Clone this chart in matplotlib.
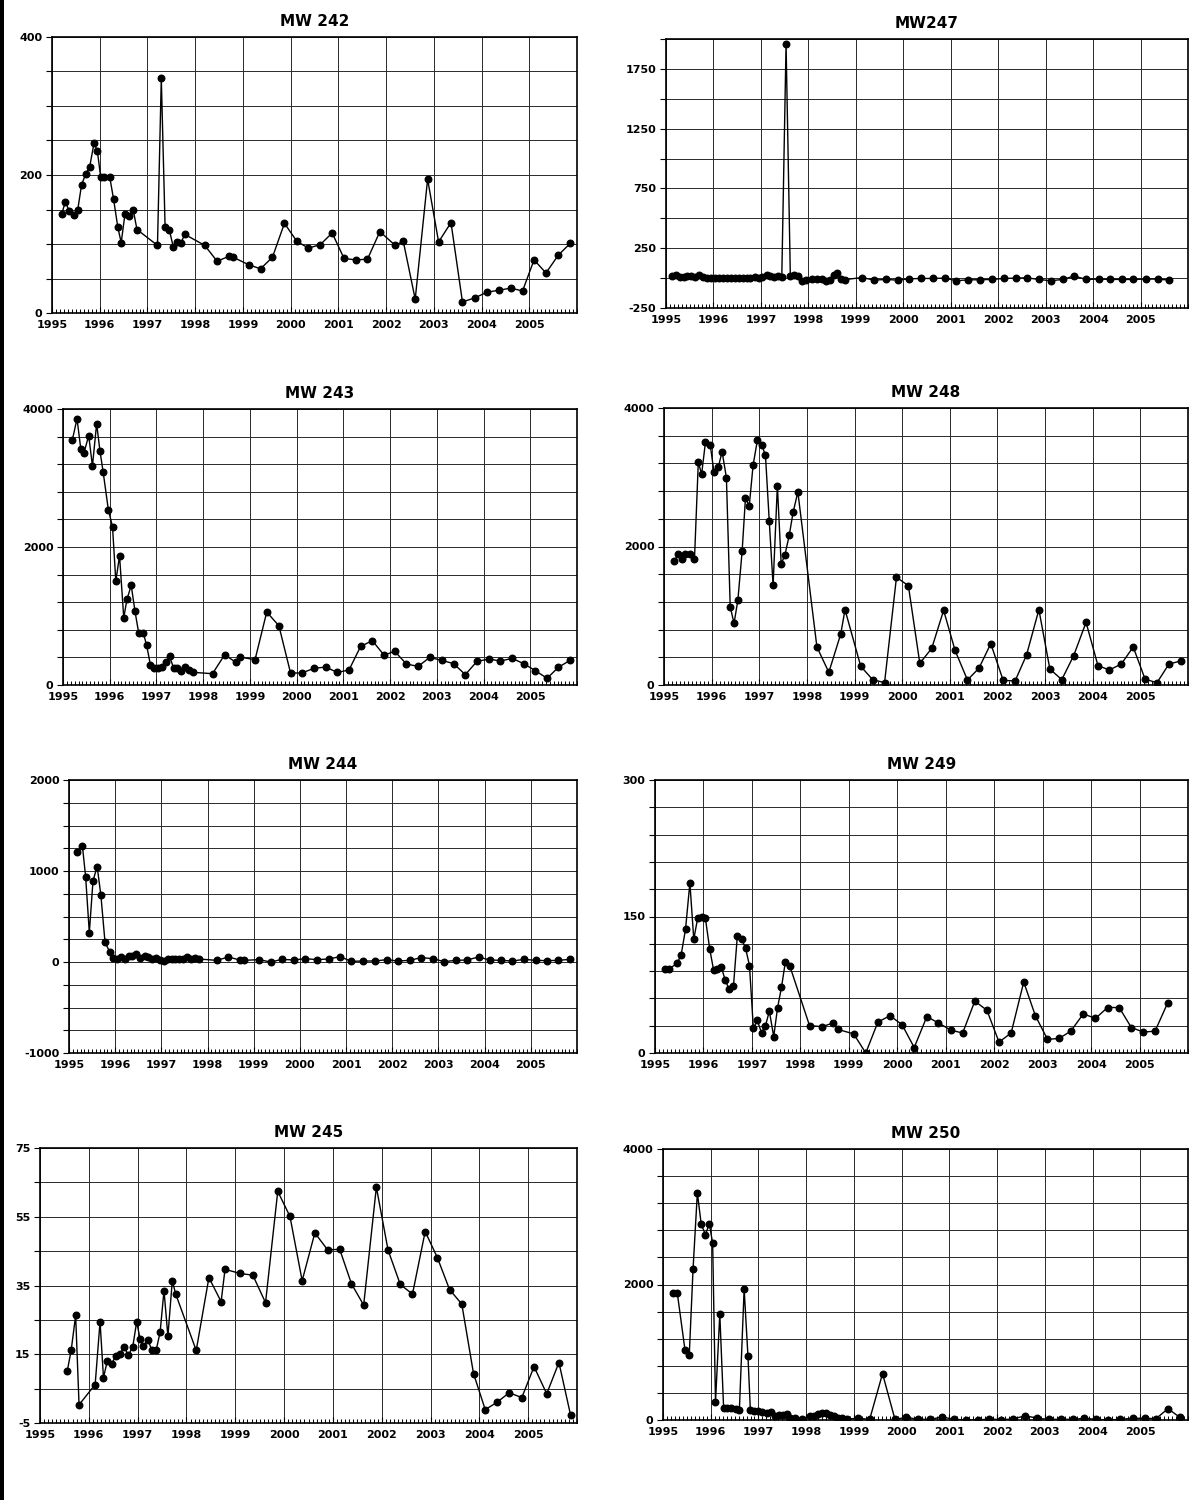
import numpy as np
import matplotlib
matplotlib.use("Agg")
import matplotlib.pyplot as plt
from matplotlib.ticker import MultipleLocator
from matplotlib.patches import Rectangle

# ---- data (decimal year, value) ----
mw242_t = [1995.20, 1995.28, 1995.36, 1995.46, 1995.54, 1995.62, 1995.71, 1995.79, 1995.88, 1995.95,
           1996.02, 1996.10, 1996.21, 1996.29, 1996.38, 1996.45, 1996.53, 1996.62, 1996.70, 1996.78,
           1997.21, 1997.29, 1997.37, 1997.46, 1997.54, 1997.62, 1997.70, 1997.78,
           1998.20, 1998.46, 1998.70, 1998.79, 1999.12, 1999.37, 1999.62, 1999.87,
           2000.13, 2000.37, 2000.62, 2000.87, 2001.12, 2001.37, 2001.61, 2001.87,
           2002.19, 2002.36, 2002.61, 2002.87, 2003.10, 2003.36, 2003.60, 2003.86,
           2004.11, 2004.36, 2004.61, 2004.86, 2005.10, 2005.35, 2005.61, 2005.86]
mw242_v = [143, 161, 148, 142, 150, 186, 202, 212, 246, 235,
           197, 197, 197, 165, 124, 102, 144, 141, 150, 121,
           98, 340, 124, 120, 96, 103, 101, 114,
           98, 75, 82, 81, 70, 64, 81, 130,
           104, 94, 99, 116, 79, 77, 78, 118,
           98, 104, 20, 194, 103, 131, 16, 22,
           30, 33, 36, 32, 77, 58, 84, 101]

mw247_t = [1995.13, 1995.21, 1995.29, 1995.37, 1995.45, 1995.53, 1995.62, 1995.70, 1995.78, 1995.87,
           1995.95, 1996.03, 1996.12, 1996.20, 1996.28, 1996.37, 1996.45, 1996.53, 1996.62, 1996.70,
           1996.78, 1996.87, 1996.95, 1997.03, 1997.12, 1997.20, 1997.28, 1997.36, 1997.44, 1997.53,
           1997.62, 1997.70, 1997.78, 1997.87, 1997.95, 1998.07, 1998.19, 1998.29, 1998.37, 1998.45,
           1998.53, 1998.61, 1998.69, 1998.78,
           1999.14, 1999.38, 1999.63, 1999.88, 2000.12, 2000.37, 2000.62, 2000.87,
           2001.12, 2001.37, 2001.61, 2001.86, 2002.13, 2002.37, 2002.60, 2002.85,
           2003.11, 2003.36, 2003.60, 2003.86, 2004.12, 2004.36, 2004.60, 2004.84,
           2005.12, 2005.36, 2005.61]
mw247_v = [20, 25, 10, 12, 18, 20, 12, 22, 10, 5,
           3, 2, 3, 4, 5, 3, 4, 5, 4, 3,
           5, 8, 5, 10, 22, 15, 10, 14, 8, 1960,
           20, 25, 18, -20, -12, -10, -6, -8, -22, -12,
           22, 40, -5, -12,
           5, -17, -11, -17, -6, -3, -3, 0,
           -22, -14, -14, -11, -3, 0, 3, -11,
           -22, -11, 17, -11, -8, -11, -11, -11,
           -8, -8, -17]

mw243_t = [1995.20, 1995.30, 1995.38, 1995.45, 1995.55, 1995.63, 1995.72, 1995.79, 1995.86, 1995.97,
           1996.06, 1996.13, 1996.21, 1996.30, 1996.37, 1996.46, 1996.54, 1996.62, 1996.72, 1996.79,
           1996.87, 1996.95, 1997.04, 1997.12, 1997.20, 1997.28, 1997.37, 1997.45, 1997.53, 1997.62,
           1997.70, 1997.79, 1998.20, 1998.46, 1998.70, 1998.79, 1999.11, 1999.36, 1999.62, 1999.87,
           2000.11, 2000.37, 2000.62, 2000.87, 2001.12, 2001.37, 2001.62, 2001.87, 2002.10, 2002.35,
           2002.60, 2002.85, 2003.11, 2003.36, 2003.61, 2003.86, 2004.12, 2004.36, 2004.61, 2004.86,
           2005.11, 2005.36, 2005.60, 2005.85]
mw243_v = [3551, 3860, 3426, 3368, 3614, 3175, 3788, 3397, 3083, 2543,
           2292, 1505, 1872, 975, 1245, 1443, 1071, 753, 753, 574,
           294, 246, 246, 256, 328, 415, 241, 241, 198, 260,
           222, 183, 164, 439, 328, 405, 367, 1057, 859, 174,
           174, 241, 260, 183, 217, 560, 642, 434, 487, 304,
           270, 400, 357, 309, 150, 343, 376, 347, 386, 309,
           207, 97, 256, 357]

mw248_t = [1995.22, 1995.30, 1995.38, 1995.45, 1995.54, 1995.64, 1995.72, 1995.79, 1995.87, 1995.97,
           1996.05, 1996.14, 1996.22, 1996.31, 1996.39, 1996.47, 1996.55, 1996.64, 1996.71, 1996.79,
           1996.87, 1996.96, 1997.05, 1997.13, 1997.21, 1997.29, 1997.38, 1997.46, 1997.54, 1997.63,
           1997.71, 1997.81, 1998.21, 1998.46, 1998.71, 1998.80, 1999.13, 1999.38, 1999.63, 1999.88,
           2000.13, 2000.37, 2000.62, 2000.87, 2001.11, 2001.37, 2001.61, 2001.86, 2002.12, 2002.37,
           2002.61, 2002.87, 2003.10, 2003.35, 2003.60, 2003.86, 2004.11, 2004.35, 2004.60, 2004.85,
           2005.10, 2005.35, 2005.60, 2005.85]
mw248_v = [1790, 1896, 1819, 1891, 1891, 1819, 3215, 3047, 3504, 3470,
           3071, 3148, 3369, 2994, 1131, 890, 1222, 1930, 2700, 2589,
           3172, 3533, 3470, 3316, 2363, 1439, 2878, 1747, 1882, 2166,
           2493, 2787, 549, 183, 736, 1088, 270, 77, 34, 1555,
           1434, 313, 529, 1078, 500, 72, 241, 597, 67, 58,
           433, 1088, 231, 77, 424, 905, 279, 217, 303, 549,
           82, 34, 303, 347]

mw244_t = [1995.18, 1995.29, 1995.36, 1995.44, 1995.52, 1995.61, 1995.69, 1995.78, 1995.88, 1995.96,
           1996.04, 1996.13, 1996.21, 1996.29, 1996.37, 1996.46, 1996.54, 1996.64, 1996.72, 1996.80,
           1996.89, 1996.98, 1997.06, 1997.14, 1997.22, 1997.30, 1997.39, 1997.47, 1997.55, 1997.64,
           1997.73, 1997.81, 1998.20, 1998.45, 1998.70, 1998.79, 1999.11, 1999.37, 1999.61, 1999.87,
           2000.11, 2000.37, 2000.62, 2000.87, 2001.11, 2001.37, 2001.63, 2001.88, 2002.12, 2002.38,
           2002.62, 2002.88, 2003.12, 2003.38, 2003.62, 2003.87, 2004.11, 2004.36, 2004.60, 2004.86,
           2005.11, 2005.35, 2005.59, 2005.85]
mw244_v = [1212, 1278, 938, 322, 894, 1048, 736, 216, 113, 48,
           29, 51, 29, 70, 66, 88, 40, 66, 51, 37,
           40, 22, 7, 33, 33, 29, 33, 33, 55, 33,
           40, 33, 18, 55, 22, 18, 26, 0, 29, 22,
           37, 26, 33, 59, 7, 11, 11, 26, 11, 18,
           48, 37, 4, 18, 22, 55, 22, 18, 11, 29,
           18, 15, 18, 29]

mw249_t = [1995.20, 1995.29, 1995.46, 1995.54, 1995.63, 1995.72, 1995.80, 1995.88, 1995.96, 1996.04,
           1996.13, 1996.21, 1996.28, 1996.37, 1996.45, 1996.53, 1996.62, 1996.70, 1996.79, 1996.87,
           1996.95, 1997.03, 1997.11, 1997.20, 1997.28, 1997.36, 1997.45, 1997.53, 1997.61, 1997.69,
           1997.78, 1998.19, 1998.45, 1998.68, 1998.77, 1999.10, 1999.35, 1999.60, 1999.85, 2000.10,
           2000.35, 2000.61, 2000.85, 2001.11, 2001.35, 2001.60, 2001.85, 2002.10, 2002.35, 2002.61,
           2002.85, 2003.10, 2003.34, 2003.58, 2003.84, 2004.09, 2004.34, 2004.58, 2004.83, 2005.08,
           2005.32, 2005.58]
mw249_v = [92, 92, 99, 108, 136, 187, 125, 148, 150, 148,
           114, 91, 92, 94, 80, 70, 74, 129, 125, 115,
           96, 27, 36, 22, 30, 46, 18, 50, 72, 100,
           96, 30, 29, 33, 26, 21, 0, 34, 41, 31,
           6, 40, 33, 25, 22, 57, 47, 12, 22, 78,
           41, 15, 16, 24, 43, 38, 50, 50, 28, 23,
           24, 55]

mw245_t = [1995.56, 1995.64, 1995.73, 1995.80, 1996.13, 1996.23, 1996.30, 1996.38, 1996.47, 1996.55,
           1996.64, 1996.72, 1996.81, 1996.90, 1996.98, 1997.05, 1997.12, 1997.21, 1997.29, 1997.38,
           1997.46, 1997.54, 1997.62, 1997.71, 1997.78, 1998.20, 1998.46, 1998.71, 1998.79, 1999.10,
           1999.36, 1999.62, 1999.87, 2000.12, 2000.37, 2000.63, 2000.89, 2001.14, 2001.38, 2001.63,
           2001.89, 2002.13, 2002.38, 2002.63, 2002.89, 2003.14, 2003.39, 2003.64, 2003.88, 2004.12,
           2004.36, 2004.61, 2004.87, 2005.12, 2005.38, 2005.63, 2005.87]
mw245_v = [10.2, 16.3, 26.3, 0.3, 6.2, 24.5, 8.2, 13.1, 12.3, 14.4,
           15.1, 17.2, 14.7, 17.2, 24.4, 19.5, 17.3, 19.2, 16.2, 16.2,
           21.4, 33.5, 20.3, 36.4, 32.5, 16.1, 37.3, 30.3, 39.7, 38.5,
           38.0, 30.0, 62.4, 55.1, 36.4, 50.3, 45.4, 45.5, 35.5, 29.3,
           63.6, 45.3, 35.3, 32.5, 50.7, 43.1, 33.8, 29.6, 9.4, -1.1,
           1.0, 3.8, 2.4, 11.4, 3.5, 12.6, -2.8]

mw250_t = [1995.20, 1995.30, 1995.46, 1995.55, 1995.63, 1995.72, 1995.80, 1995.89, 1995.97, 1996.04,
           1996.10, 1996.19, 1996.27, 1996.35, 1996.43, 1996.52, 1996.60, 1996.70, 1996.78, 1996.83,
           1996.91, 1997.00, 1997.08, 1997.18, 1997.26, 1997.34, 1997.43, 1997.51, 1997.59, 1997.67,
           1997.76, 1997.92, 1998.09, 1998.17, 1998.25, 1998.34, 1998.42, 1998.50, 1998.59, 1998.67,
           1998.76, 1998.85, 1999.09, 1999.33, 1999.60, 1999.86, 2000.10, 2000.35, 2000.60, 2000.85,
           2001.10, 2001.35, 2001.60, 2001.84, 2002.09, 2002.34, 2002.59, 2002.84, 2003.08, 2003.34,
           2003.59, 2003.83, 2004.08, 2004.33, 2004.58, 2004.84, 2005.09, 2005.33, 2005.58, 2005.83]
mw250_v = [1875, 1870, 1038, 955, 2234, 3355, 2893, 2735, 2898, 2613,
           266, 1565, 177, 177, 177, 162, 143, 1934, 945, 152,
           128, 128, 113, 98, 113, 54, 69, 74, 93, 34,
           34, 20, 64, 54, 89, 103, 98, 79, 54, 30,
           30, 15, 25, 10, 684, 10, 39, 10, 10, 44,
           10, 0, 0, 15, 5, 15, 64, 25, 10, 10,
           10, 25, 10, 0, 10, 25, 25, 20, 167, 39]

year_labels = [str(y) for y in range(1995, 2006)]

W, H = 1192, 1500

# title, t, v, (ymin, ymax, grid step), labelled y values, box in pixels (left, right, top, bottom)
panels = [
    ("MW 242", mw242_t, mw242_v, (0, 400, 50), [0, 200, 400], (52, 577, 37, 313)),
    ("MW247", mw247_t, mw247_v, (-250, 2000, 250), [-250, 250, 750, 1250, 1750], (666, 1188, 39, 308)),
    ("MW 243", mw243_t, mw243_v, (0, 4000, 400), [0, 2000, 4000], (63, 577, 409, 685)),
    ("MW 248", mw248_t, mw248_v, (0, 4000, 400), [0, 2000, 4000], (664, 1188, 408, 685)),
    ("MW 244", mw244_t, mw244_v, (-1000, 2000, 250), [-1000, 0, 1000, 2000], (69, 577, 780, 1053)),
    ("MW 249", mw249_t, mw249_v, (0, 300, 30), [0, 150, 300], (655, 1188, 780, 1053)),
    ("MW 245", mw245_t, mw245_v, (-5, 75, 10), [-5, 15, 35, 55, 75], (40, 577, 1148, 1423)),
    ("MW 250", mw250_t, mw250_v, (0, 4000, 400), [0, 2000, 4000], (663, 1188, 1149, 1420)),
]

plt.rcParams["font.family"] = ["DejaVu Sans"]
fig = plt.figure(figsize=(W / 100, H / 100), dpi=100)
fig.patch.set_facecolor("white")

for title, t, v, (lo, hi, step), labelled, (l, r, top, bot) in panels:
    ax = fig.add_axes([l / W, 1 - bot / H, (r - l) / W, (bot - top) / H])
    ax.plot(t, v, color="black", lw=1.0, marker="o", ms=4.7, mfc="black", mec="black", zorder=3)
    ax.set_xlim(1995, 2006)
    ax.set_ylim(lo, hi)

    ax.set_xticks(range(1995, 2006))
    ax.set_xticklabels(year_labels, fontsize=8, fontweight="bold")
    ax.xaxis.set_minor_locator(MultipleLocator(1 / 12))

    yt = np.arange(lo, hi + step / 2, step)
    ax.set_yticks(yt)
    ax.set_yticklabels([f"{int(y)}" if int(y) in labelled else "" for y in yt],
                       fontsize=8, fontweight="bold")

    ax.grid(True, which="major", color="#2a2a2a", lw=0.7)
    ax.tick_params(axis="x", which="major", direction="in", length=4, width=0.8, pad=5)
    ax.tick_params(axis="x", which="minor", direction="in", length=3, width=0.7)
    ax.tick_params(axis="y", which="major", direction="out", length=4, width=0.8, pad=3)
    for s in ax.spines.values():
        s.set_linewidth(1.2)
        s.set_color("black")
    ax.set_title(title, fontsize=11, fontweight="bold", pad=8)

# black scan edge down the left side of the page
fig.patches.append(Rectangle((0, 0), 4 / W, 1, transform=fig.transFigure,
                             facecolor="black", edgecolor="none"))

fig.savefig("out.png", dpi=100)
